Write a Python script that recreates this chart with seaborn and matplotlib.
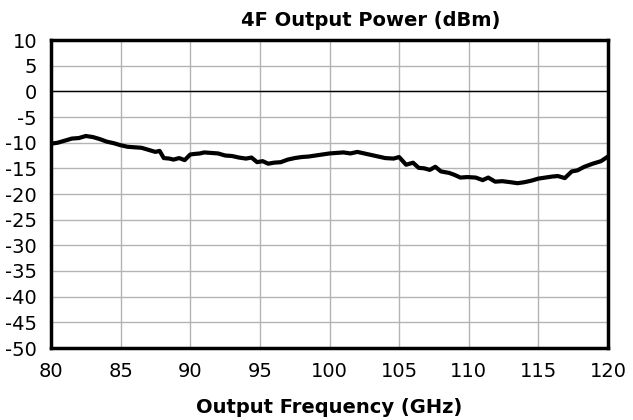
import matplotlib
matplotlib.use("Agg")
import matplotlib.pyplot as plt
import seaborn as sns
import pandas as pd

freq_ghz = [80.0, 80.5, 81.0, 81.5, 82.0, 82.5, 83.0, 83.5, 84.0, 84.5, 85.0, 85.5, 86.0, 86.5,
            87.0, 87.5, 87.8, 88.1, 88.5, 88.8, 89.2, 89.6, 90.0, 90.3, 90.7, 91.0, 91.5, 92.0,
            92.5, 93.0, 93.5, 94.0, 94.4, 94.8, 95.2, 95.6, 96.0, 96.5, 97.0, 97.5, 98.0, 98.5,
            99.0, 99.5, 100.0, 100.5, 101.0, 101.5, 102.0, 102.5, 103.0, 103.5, 104.0, 104.6,
            105.0, 105.5, 106.0, 106.4, 106.8, 107.2, 107.6, 108.0, 108.6, 109.0, 109.4, 109.9,
            110.5, 111.0, 111.4, 111.9, 112.4, 113.0, 113.5, 114.0, 114.5, 115.0, 115.5, 116.0,
            116.4, 116.9, 117.4, 117.8, 118.3, 118.9, 119.5, 120.0]
power_dbm = [-10.2, -10.0, -9.6, -9.2, -9.1, -8.7, -8.9, -9.3, -9.8, -10.1, -10.5, -10.8, -10.9, -11.0,
             -11.4, -11.8, -11.6, -13.0, -13.1, -13.3, -13.0, -13.4, -12.3, -12.2, -12.1, -11.9, -12.0, -12.1,
             -12.5, -12.6, -12.9, -13.1, -12.9, -13.8, -13.6, -14.1, -13.9, -13.8, -13.3, -13.0, -12.8, -12.7,
             -12.5, -12.3, -12.1, -12.0, -11.9, -12.1, -11.8, -12.1, -12.4, -12.7, -13.0, -13.1,
             -12.8, -14.3, -13.9, -14.9, -15.0, -15.3, -14.7, -15.6, -15.9, -16.3, -16.8, -16.7,
             -16.8, -17.3, -16.8, -17.6, -17.5, -17.7, -17.9, -17.7, -17.4, -17.0, -16.8, -16.6,
             -16.5, -16.9, -15.6, -15.4, -14.7, -14.1, -13.6, -12.7]

x_ticks = [80, 85, 90, 95, 100, 105, 110, 115, 120]
y_ticks = [10, 5, 0, -5, -10, -15, -20, -25, -30, -35, -40, -45, -50]

sns.set_style("white")
plt.rcParams['font.family'] = ['DejaVu Sans']
plt.rcParams['text.color'] = 'black'
plt.rcParams['xtick.color'] = 'black'
plt.rcParams['ytick.color'] = 'black'
plt.rcParams['axes.labelcolor'] = 'black'

df = pd.DataFrame({"freq": freq_ghz, "power": power_dbm})

fig = plt.figure(figsize=(6.33, 4.2), dpi=100)
ax = fig.add_axes([51/633, 1 - 348/420, (608 - 51)/633, (348 - 40)/420])

sns.lineplot(data=df, x="freq", y="power", ax=ax, color="black", linewidth=3, sort=True, zorder=5)

ax.set_xlim(80, 120)
ax.set_ylim(-50, 10)
ax.set_xticks(x_ticks)
ax.set_yticks(y_ticks)
ax.set_xticklabels([str(t) for t in x_ticks], fontsize=14)
ax.set_yticklabels([str(t) for t in y_ticks], fontsize=14)
ax.tick_params(axis="y", length=0, pad=10)
ax.tick_params(axis="x", length=0, pad=10)

ax.grid(True, color="#b4b4b4", linewidth=1)
ax.axhline(0, color="black", linewidth=1, zorder=3)
for s in ax.spines.values():
    s.set_visible(True)
    s.set_color("black")
    s.set_linewidth(2.5)

ax.set_xlabel("Output Frequency (GHz)", fontsize=14, fontweight="bold", labelpad=12)
ax.set_ylabel("")
fig.text(371/633, 1 - 21/420, "4F Output Power (dBm)", ha="center", va="center",
         fontsize=14, fontweight="bold")

fig.savefig("out.png", dpi=100)
